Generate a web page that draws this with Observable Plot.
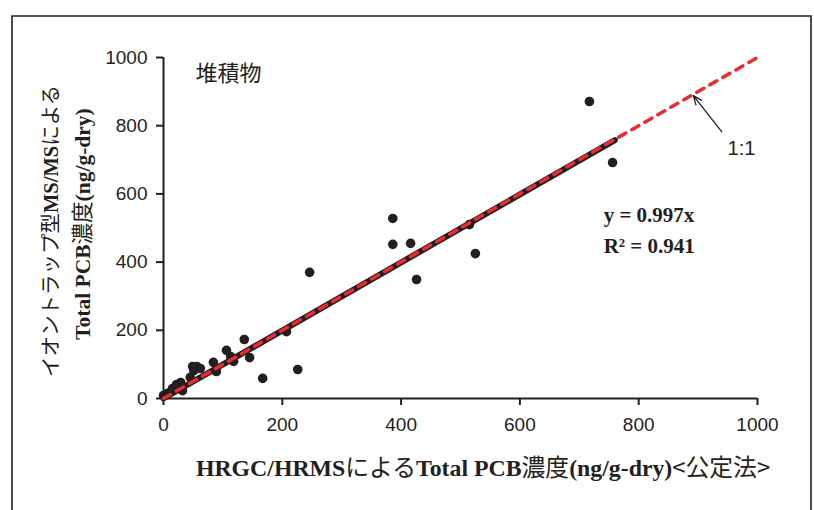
<!DOCTYPE html>
<html><head><meta charset="utf-8">
<script src="https://cdn.jsdelivr.net/npm/d3@7"></script>
<script src="https://cdn.jsdelivr.net/npm/@observablehq/plot@0.6"></script>
<style>body{margin:0;background:#fff}</style>
</head><body><div id="chart"></div>
<script>
// HRGC/HRMS (x) vs ion-trap MS/MS (y), ng/g-dry
const hrgc = [0,7,15,22,29,32,25,45,51,56,62,49,84,89,106,118,113,136,145,167,207,226,246,386,386,416,515,525,426,717,756];
const trap = [9,15,29,41,47,23,35,62,82,94,88,94,106,79,141,109,123,173,120,59,196,85,370,528,452,455,510,425,349,871,692];
const xTicks = [0,200,400,600,800,1000];
const yTicks = [0,200,400,600,800,1000];
const fitX = [0,760], fitY = [0,758];        // y = 0.997x
const oneX = [0,1005], oneY = [0,1005];      // 1:1
const arrowFrom = [940,782], arrowTo = [892,888];
const eqLabel = "y = 0.997x", r2Label = "R² = 0.941", matrixLabel = "堆積物", oneLabel = "1:1";

const pts = hrgc.map((x,i)=>({x, y: trap[i]}));
const fit = fitX.map((x,i)=>({x, y: fitY[i]}));
const one = oneX.map((x,i)=>({x, y: oneY[i]}));
const ink = "#231f20", red = "#ec2a30";
const serif = "'Liberation Serif','Times New Roman',serif";
const cjk = "'Noto Sans CJK JP',sans-serif";

const svg = Plot.plot({
  width: 814, height: 510,
  marginLeft: 163, marginRight: 57, marginTop: 57, marginBottom: 112,
  x: {domain: [0,1000]}, y: {domain: [0,1000]},
  style: {fontFamily: "'Liberation Sans',sans-serif", fontSize: "19px", color: ink, background: "white"},
  marks: [
    Plot.axisX({ticks: xTicks, tickSize: 7, tickPadding: 12, strokeWidth: 2, label: null, tickFormat: d3.format("d")}),
    Plot.axisY({ticks: yTicks, tickSize: 7, tickPadding: 9, strokeWidth: 2, label: null, tickFormat: d3.format("d")}),
    Plot.ruleY([0], {x1: 0, x2: 1000, stroke: ink, strokeWidth: 2}),
    Plot.ruleX([0], {y1: 0, y2: 1000, stroke: ink, strokeWidth: 2}),
    Plot.dot(pts, {x: "x", y: "y", r: 4.8, fill: ink, stroke: null}),
    Plot.line(fit, {x: "x", y: "y", stroke: ink, strokeWidth: 6}),
    Plot.line(one, {x: "x", y: "y", stroke: red, strokeWidth: 3.5, strokeDasharray: "8,7"}),
    Plot.arrow([0], {x1: () => arrowFrom[0], y1: () => arrowFrom[1], x2: () => arrowTo[0], y2: () => arrowTo[1], stroke: ink, strokeWidth: 1.3, headLength: 11, headAngle: 45}),
    Plot.text([eqLabel], {x: 741, y: 537, text: d => d, textAnchor: "start", fontFamily: serif, fontWeight: "bold", fontSize: 21, fill: ink}),
    Plot.text([r2Label], {x: 741, y: 446, text: d => d, textAnchor: "start", fontFamily: serif, fontWeight: "bold", fontSize: 21, fill: ink}),
    Plot.text([matrixLabel], {x: 54, y: 952, text: d => d, textAnchor: "start", fontFamily: cjk, fontSize: 22, fill: ink, letterSpacing: "2px"}),
    Plot.text([oneLabel], {x: 973, y: 733, text: d => d, textAnchor: "middle", fontSize: 20, fill: ink})
  ]
});
document.getElementById("chart").appendChild(svg);

const s = d3.select(svg);
s.append("path").attr("d", "M12,515V16H811V515").attr("fill","none").attr("stroke", ink).attr("stroke-width", 1.6);

function mixed(parent, segs, size) {
  segs.forEach(([t, isCjk]) => {
    parent.append("tspan").text(t)
      .attr("font-family", isCjk ? cjk : serif)
      .attr("font-weight", isCjk ? "normal" : "bold")
      .attr("font-size", size);
  });
}
const yl1 = s.append("text").attr("transform","translate(58,231) rotate(-90)").attr("text-anchor","middle").attr("fill", ink);
mixed(yl1, [["イオントラップ型",true],["MS/MS",false],["による",true]], 20.5);
const yl2 = s.append("text").attr("transform","translate(90,224) rotate(-90)").attr("text-anchor","middle").attr("fill", ink);
mixed(yl2, [["Total PCB",false],["濃度",true],["(ng/g-dry)",false]], 21.5);
const xl = s.append("text").attr("transform","translate(483,476)").attr("text-anchor","middle").attr("fill", ink);
mixed(xl, [["HRGC/HRMS",false],["による",true],["Total PCB",false],["濃度",true],["(ng/g-dry)",false],["<公定法>",true]], 23.8);
</script></body></html>
